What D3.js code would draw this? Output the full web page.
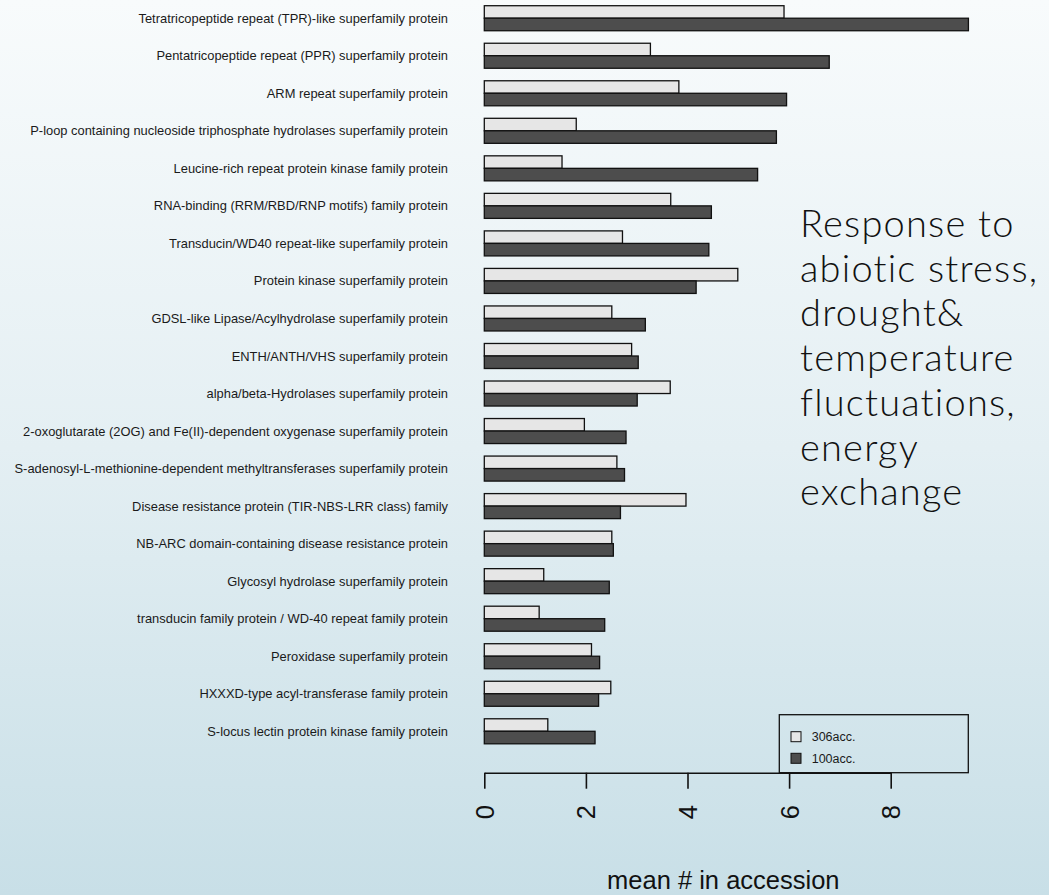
<!DOCTYPE html>
<html>
<head>
<meta charset="utf-8">
<script src="https://cdn.jsdelivr.net/npm/d3@7"></script>
<style>
  html, body { margin: 0; padding: 0; }
  body { width: 1049px; height: 895px; overflow: hidden; }
  svg text { font-family: "Liberation Sans", Arial, sans-serif; }
</style>
</head>
<body>
<svg id="chart" width="1049" height="895"></svg>
<script>
// Gene families, most frequent at the top
const families = [
  "Tetratricopeptide repeat (TPR)-like superfamily protein",
  "Pentatricopeptide repeat (PPR) superfamily protein",
  "ARM repeat superfamily protein",
  "P-loop containing nucleoside triphosphate hydrolases superfamily protein",
  "Leucine-rich repeat protein kinase family protein",
  "RNA-binding (RRM/RBD/RNP motifs) family protein",
  "Transducin/WD40 repeat-like superfamily protein",
  "Protein kinase superfamily protein",
  "GDSL-like Lipase/Acylhydrolase superfamily protein",
  "ENTH/ANTH/VHS superfamily protein",
  "alpha/beta-Hydrolases superfamily protein",
  "2-oxoglutarate (2OG) and Fe(II)-dependent oxygenase superfamily protein",
  "S-adenosyl-L-methionine-dependent methyltransferases superfamily protein",
  "Disease resistance protein (TIR-NBS-LRR class) family",
  "NB-ARC domain-containing disease resistance protein",
  "Glycosyl hydrolase superfamily protein",
  "transducin family protein / WD-40 repeat family protein",
  "Peroxidase superfamily protein",
  "HXXXD-type acyl-transferase family protein",
  "S-locus lectin protein kinase family protein"
];

// mean number of genes per accession
const acc306 = [5.90, 3.27, 3.83, 1.81, 1.53, 3.67, 2.72, 4.99, 2.51, 2.90,
                3.66, 1.97, 2.61, 3.97, 2.51, 1.17, 1.08, 2.11, 2.49, 1.25];
const acc100 = [9.53, 6.79, 5.95, 5.75, 5.38, 4.47, 4.42, 4.17, 3.17, 3.03,
                3.01, 2.79, 2.76, 2.68, 2.54, 2.46, 2.37, 2.27, 2.25, 2.18];

const seriesNames = ["306acc.", "100acc."];
const seriesFill = ["#e6e6e6", "#4d4d4d"];
const xTicks = [0, 2, 4, 6, 8];
const xTitle = "mean # in accession";
const noteLines = ["Response to", "abiotic stress,", "drought&", "temperature",
                   "fluctuations,", "energy", "exchange"];

const svg = d3.select("#chart");

// slide background: pale at the top, light blue at the bottom
const defs = svg.append("defs");
const grad = defs.append("linearGradient")
  .attr("id", "bg").attr("x1", 0).attr("y1", 0).attr("x2", 0).attr("y2", 1);
grad.append("stop").attr("offset", "0%").attr("stop-color", "#f8fbfc");
grad.append("stop").attr("offset", "50%").attr("stop-color", "#e4eff3");
grad.append("stop").attr("offset", "100%").attr("stop-color", "#c8dfe7");
svg.append("rect").attr("width", 1049).attr("height", 895).attr("fill", "url(#bg)");

// x: value scale; y: slot scale (each family takes 3 slots: gap + two bars)
const x = d3.scaleLinear().domain([0, 8]).range([484.3, 890.7]);
const slots = families.length * 3;
const y = d3.scaleLinear().domain([0, slots]).range([-6.8, 743.8]);

const rows = families.map((name, i) => ({ name, i, vals: [acc306[i], acc100[i]] }));

const g = svg.append("g");

// bars
const grp = g.selectAll("g.fam").data(rows).enter().append("g").attr("class", "fam");
grp.selectAll("rect").data(d => d.vals.map((v, k) => ({ v, k, i: d.i })))
  .enter().append("rect")
  .attr("x", x(0))
  .attr("y", d => y(d.i * 3 + 1 + d.k))
  .attr("width", d => x(d.v) - x(0))
  .attr("height", d => y(1) - y(0))
  .attr("fill", d => seriesFill[d.k])
  .attr("stroke", "#111")
  .attr("stroke-width", 1.3);

// family labels
g.selectAll("text.fam").data(rows).enter().append("text")
  .attr("class", "fam")
  .attr("x", 448)
  .attr("y", d => y(d.i * 3 + 2))
  .attr("dy", "0.35em")
  .attr("text-anchor", "end")
  .attr("font-size", 12.9)
  .attr("fill", "#1a1a1a")
  .text(d => d.name);

// x axis
const axis = d3.axisBottom(x).tickValues(xTicks).tickSize(16).tickSizeOuter(0)
  .tickFormat(d3.format("d"));
const ax = svg.append("g").attr("transform", "translate(0,772.7)").call(axis);
ax.select(".domain").attr("stroke", "#111").attr("stroke-width", 1.6);
ax.selectAll(".tick line").attr("stroke", "#111").attr("stroke-width", 1.6);
ax.selectAll(".tick text")
  .attr("y", 0).attr("dy", null)
  .attr("transform", "translate(0,39.5) rotate(-90)")
  .attr("text-anchor", "middle")
  .attr("dominant-baseline", "central")
  .attr("font-size", 25.5)
  .attr("fill", "#111");

// axis title
svg.append("text")
  .attr("x", 723.3).attr("y", 889)
  .attr("text-anchor", "middle")
  .attr("font-size", 25.5)
  .attr("fill", "#111")
  .text(xTitle);

// legend
const lg = svg.append("g");
lg.append("rect")
  .attr("x", 779.3).attr("y", 714.7).attr("width", 189).attr("height", 58)
  .attr("fill", "none").attr("stroke", "#111").attr("stroke-width", 1.3);
seriesNames.forEach((s, k) => {
  const cy = 736.7 + k * 21.6;
  lg.append("rect")
    .attr("x", 791).attr("y", cy - 5).attr("width", 10).attr("height", 10)
    .attr("fill", seriesFill[k]).attr("stroke", "#111").attr("stroke-width", 1);
  lg.append("text")
    .attr("x", 811.7).attr("y", cy).attr("dy", "0.35em")
    .attr("font-size", 12.5).attr("fill", "#1a1a1a")
    .text(s);
});

// annotation
const note = svg.append("text")
  .attr("x", 800)
  .attr("font-size", 38)
  .attr("fill", "#111")
  .style("font-family", "Lato, 'DejaVu Sans', sans-serif")
  .style("font-weight", 300)
  .style("letter-spacing", "1.2px");
noteLines.forEach((t, k) => {
  note.append("tspan").attr("x", 800).attr("y", 237 + k * 44.7).text(t);
});
</script>
</body>
</html>
